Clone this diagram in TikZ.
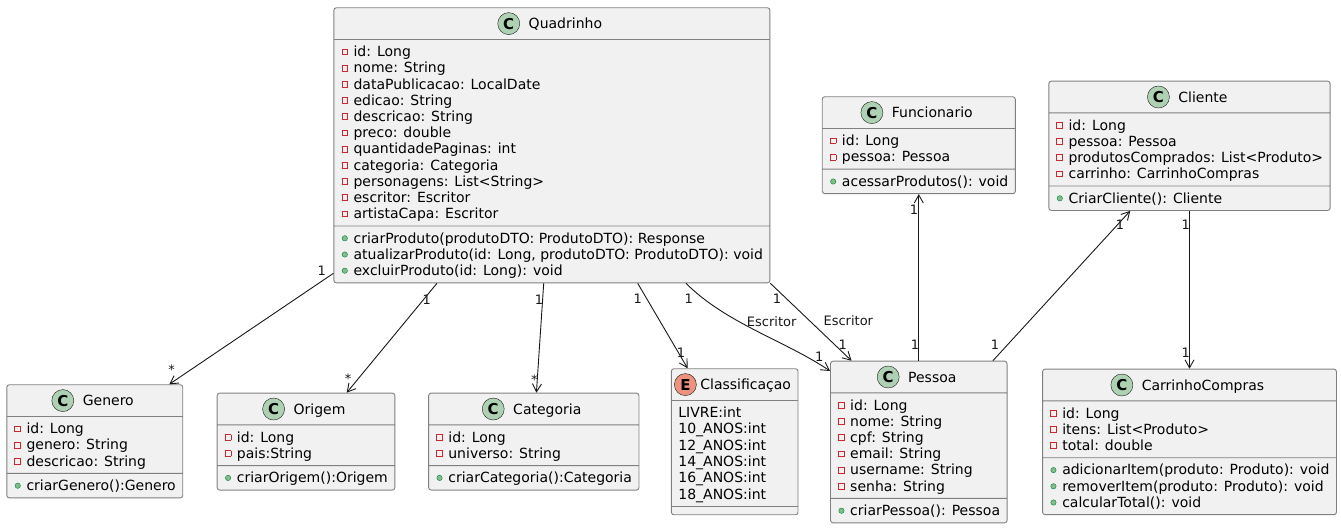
\documentclass[tikz,border=0pt]{standalone}
\usepackage{fontspec}
\setmainfont{DejaVu Sans}
\usepackage{pict2e}
\usetikzlibrary{shapes.multipart}
\usetikzlibrary{arrows.meta}
\usetikzlibrary{calc}

\definecolor{boxgray}{HTML}{F1F1F1}
\definecolor{bordergray}{HTML}{808080}
\definecolor{linedark}{HTML}{181818}
\definecolor{cgreen}{HTML}{ADD1B2}
\definecolor{eorange}{HTML}{EB937F}
\definecolor{privred}{HTML}{C82930}
\definecolor{pubfill}{HTML}{84BE84}
\definecolor{publine}{HTML}{038048}

\newcommand{\umlfont}{\fontsize{14}{16.2}\selectfont}
\newcommand{\multfont}{\fontsize{13}{15}\selectfont}
\newcommand{\rowstrut}{\rule[-3.2pt]{0pt}{16.2pt}}
\newcommand{\rows}[1]{\vbox{\offinterlineskip\let\\\cr\halign{##\hfil\cr#1\crcr}}}
\newcommand{\priv}{\rowstrut\begin{picture}(12.7,0)\linethickness{0.8pt}\put(1.4,2.3){\color{privred}\framebox(5,5){}}\end{picture}}
\newcommand{\pub}{\rowstrut\begin{picture}(12.7,0)\put(3.9,4.8){\color{pubfill}\circle*{5.4}}\put(3.9,4.8){\color{publine}\circle{5.4}}\end{picture}}
\newcommand{\chead}[4][9pt]{\rule[-6.6pt]{0pt}{23.4pt}\hspace{-4pt}\raisebox{-5.9pt}{\begin{picture}(22,22)\put(11,11){\color{#3}\circle*{22}}\put(11,11){\color{linedark}\circle{22}}\put(11,11){\makebox(0,0){\fontsize{15}{15}\selectfont\bfseries #2}}\end{picture}}\hspace{#1}#4\hspace{-4pt}}
\newcommand{\nopart}{\rule{1pt}{0pt}}

\tikzstyle{umlclass} = [rectangle split, rectangle split parts=3, rectangle split part align={center,left,left}, rectangle split ignore empty parts=false, draw=bordergray, line width=0.9pt, fill=boxgray, rounded corners=2.5pt, inner xsep=7pt, inner ysep=3.7pt, font=\umlfont, anchor=north]
\tikzstyle{mult} = [font=\multfont, inner sep=0pt, text=linedark]

\begin{document}
\begin{tikzpicture}[x=1pt, y=-1pt, assoc/.style={draw=linedark, line width=0.9pt, -{Straight Barb[length=8pt,width=9pt]}}]
\useasboundingbox (0,0) rectangle (1341,528);

% Define nodes
\node[umlclass] (quad) at (551.9,7.3) {\chead{C}{cgreen}{Quadrinho}
  \nodepart{two}\rows{\priv id: Long\\ \priv nome: String\\ \priv dataPublicacao: LocalDate\\ \priv edicao: String\\ \priv descricao: String\\ \priv preco: double\\ \priv quantidadePaginas: int\\ \priv categoria: Categoria\\ \priv personagens: List<String>\\ \priv escritor: Escritor\\ \priv artistaCapa: Escritor}
  \nodepart{three}\rows{\pub criarProduto(produtoDTO: ProdutoDTO): Response\\ \pub atualizarProduto(id: Long, produtoDTO: ProdutoDTO): void\\ \pub excluirProduto(id: Long): void}};
\node[umlclass] (gen) at (94.8,384.3) {\chead{C}{cgreen}{Genero}
  \nodepart{two}\rows{\priv id: Long\\ \priv genero: String\\ \priv descricao: String}
  \nodepart{three}\rows{\pub criarGenero():Genero}};
\node[umlclass] (orig) at (306,392.7) {\chead{C}{cgreen}{Origem}
  \nodepart{two}\rows{\priv id: Long\\ \priv pais:String}
  \nodepart{three}\rows{\pub criarOrigem():Origem}};
\node[umlclass] (cat) at (533.8,392.7) {\chead{C}{cgreen}{Categoria}
  \nodepart{two}\rows{\priv id: Long\\ \priv universo: String}
  \nodepart{three}\rows{\pub criarCategoria():Categoria}};
\node[umlclass] (clas) at (734.7,368.3) {\chead[4pt]{E}{eorange}{Classificaçao}
  \nodepart{two}\rows{\rowstrut LIVRE:int\\ \rowstrut 10\_ANOS:int\\ \rowstrut 12\_ANOS:int\\ \rowstrut 14\_ANOS:int\\ \rowstrut 16\_ANOS:int\\ \rowstrut 18\_ANOS:int}
  \nodepart{three}\nopart};
\node[umlclass] (pes) at (918.8,360.7) {\chead{C}{cgreen}{Pessoa}
  \nodepart{two}\rows{\priv id: Long\\ \priv nome: String\\ \priv cpf: String\\ \priv email: String\\ \priv username: String\\ \priv senha: String}
  \nodepart{three}\rows{\pub criarPessoa(): Pessoa}};
\node[umlclass] (func) at (918.8,96.3) {\chead{C}{cgreen}{Funcionario}
  \nodepart{two}\rows{\priv id: Long\\ \priv pessoa: Pessoa}
  \nodepart{three}\rows{\pub acessarProdutos(): void}};
\node[umlclass] (cli) at (1189.5,80.7) {\chead{C}{cgreen}{Cliente}
  \nodepart{two}\rows{\priv id: Long\\ \priv pessoa: Pessoa\\ \priv produtosComprados: List<Produto>\\ \priv carrinho: CarrinhoCompras}
  \nodepart{three}\rows{\pub CriarCliente(): Cliente}};
\node[umlclass] (car) at (1189.5,368.7) {\chead{C}{cgreen}{CarrinhoCompras}
  \nodepart{two}\rows{\priv id: Long\\ \priv itens: List<Produto>\\ \priv total: double}
  \nodepart{three}\rows{\pub adicionarItem(produto: Produto): void\\ \pub removerItem(produto: Produto): void\\ \pub calcularTotal(): void}};

% Edges
\draw[assoc] ($(quad.south west)+(0,-10)$) -- ($(gen.north east)+(-14,0)$);
\draw[assoc] ($(quad.south west)+(103.5,0)$) -- ($(orig.north)+(40.7,0)$);
\draw[assoc] ($(quad.south)+(-8.2,0)$) -- ($(cat.north)+(2.6,0)$);
\draw[assoc] ($(quad.south)+(85.8,0)$) -- ($(clas.north west)+(16.7,0)$);
\draw[assoc] ($(quad.south)+(134.1,0)$) .. controls ($(quad.south)+(174,40)$) and ($(pes.north west)+(-45,-20)$) .. ($(pes.north west)+(0,10.3)$);
\draw[assoc] (quad.south east) -- ($(pes.north west)+(21.4,0)$);
\draw[assoc] (pes.north) -- (func.south);
\draw[assoc] ($(pes.north east)+(-14.6,0)$) -- ($(cli.south)+(-59.3,0)$);
\draw[assoc] (cli.south) -- (car.north);

% Multiplicities
\node[mult] (m1)  at (321.7,270.7) {1};
\node[mult] (m2)  at (171.7,369.5) {*};
\node[mult] (m3)  at (426.7,299.3) {1};
\node[mult] (m4)  at (348,378.8)   {*};
\node[mult] (m5)  at (539,299.3)   {1};
\node[mult] (m6)  at (534.3,379.5) {*};
\node[mult] (m7)  at (637.7,299)   {1};
\node[mult] (m8)  at (681,352.7)   {1};
\node[mult] (m9)  at (688.7,299)   {1};
\node[mult] (m10) at (819.3,356.7) {1};
\node[mult] (m11) at (777,299)     {1};
\node[mult] (m12) at (842.7,345)   {1};
\node[mult] (m13) at (914,209.3)   {1};
\node[mult] (m14) at (915,345)     {1};
\node[mult] (m15) at (995,345)     {1};
\node[mult] (m16) at (1120,225)    {1};
\node[mult] (m17) at (1185.7,225)  {1};
\node[mult] (m18) at (1185.7,352.3) {1};
\node[mult] (esc1) at (771.7,321.7) {Escritor};
\node[mult] (esc2) at (848.3,321)   {Escritor};
\end{tikzpicture}
\end{document}
